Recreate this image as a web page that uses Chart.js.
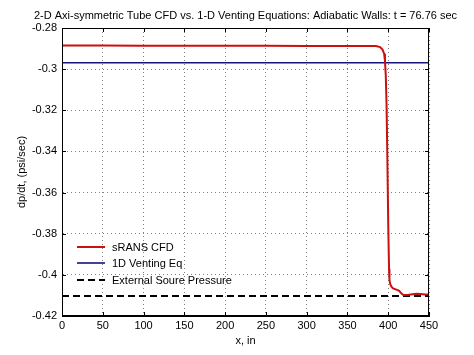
<!DOCTYPE html>
<html>
<head>
<meta charset="utf-8">
<script src="https://cdn.jsdelivr.net/npm/chart.js@4.4.1/dist/chart.umd.min.js"></script>
<style>
  html, body { margin: 0; padding: 0; background: #fff; }
  #wrap { width: 474px; height: 355px; position: relative; }
</style>
</head>
<body>
<div id="wrap"><canvas id="c" width="474" height="355"></canvas></div>
<script>
// ---- data ----
const titleText = "2-D Axi-symmetric Tube CFD vs. 1-D Venting Equations: Adiabatic Walls: t = 76.76 sec";
const xLabel = "x, in";
const yLabel = "dp/dt, (psi/sec)";
const seriesNames = ["sRANS CFD", "1D Venting Eq", "External Soure Pressure"];

const cfdX = [0, 50, 100, 150, 200, 250, 300, 350, 385, 390, 393, 395, 396, 397, 398, 399, 400, 401, 401.5, 402.5, 404, 406, 410, 413.5, 416, 418.5, 425, 435, 440, 445, 450];
const cfdY = [-0.2885, -0.2885, -0.2886, -0.2886, -0.2886, -0.2886, -0.2887, -0.2887, -0.2888, -0.2893, -0.2905, -0.2925, -0.296, -0.303, -0.318, -0.345, -0.375, -0.397, -0.4025, -0.4045, -0.4058, -0.4066, -0.4072, -0.4078, -0.409, -0.4098, -0.4097, -0.4092, -0.4093, -0.4095, -0.4095];

const ventX = [0, 450];
const ventY = [-0.2969, -0.2969];

const extX = [0, 450];
const extY = [-0.4103, -0.4103];

const xTicks = [0, 50, 100, 150, 200, 250, 300, 350, 400, 450];
const yTicks = [-0.42, -0.4, -0.38, -0.36, -0.34, -0.32, -0.3, -0.28];
const yTickLabels = ["-0.42", "-0.4", "-0.38", "-0.36", "-0.34", "-0.32", "-0.3", "-0.28"];

// ---- build chart ----
const toPts = (xs, ys) => xs.map((x, i) => ({ x: x, y: ys[i] }));
const FONT = "'Liberation Sans', Arial, sans-serif";

const decorPlugin = {
  id: 'decor',
  afterDraw(chart) {
    const ctx = chart.ctx;
    const a = chart.chartArea;
    const xs = chart.scales.x, ys = chart.scales.y;
    ctx.save();
    // box
    ctx.strokeStyle = '#000';
    ctx.lineWidth = 1;
    ctx.setLineDash([]);
    ctx.strokeRect(Math.round(a.left) + 0.5, Math.round(a.top) + 0.5, Math.round(a.right - a.left) - 1, Math.round(a.bottom - a.top) - 1);
    // inward tick marks
    ctx.beginPath();
    xTicks.forEach(v => {
      const px = Math.round(xs.getPixelForValue(v)) + 0.5;
      ctx.moveTo(px, a.bottom); ctx.lineTo(px, a.bottom - 4);
      ctx.moveTo(px, a.top); ctx.lineTo(px, a.top + 4);
    });
    yTicks.forEach(v => {
      const py = Math.round(ys.getPixelForValue(v)) + 0.5;
      ctx.moveTo(a.left, py); ctx.lineTo(a.left + 4, py);
      ctx.moveTo(a.right, py); ctx.lineTo(a.right - 4, py);
    });
    ctx.stroke();
    // title
    ctx.fillStyle = '#000';
    ctx.font = '11px ' + FONT;
    ctx.textAlign = 'center';
    ctx.textBaseline = 'middle';
    ctx.fillText(titleText, (a.left + a.right) / 2, 16);
    // x label
    ctx.fillText(xLabel, (a.left + a.right) / 2, 341);
    // y label
    ctx.save();
    ctx.translate(22, (a.top + a.bottom) / 2);
    ctx.rotate(-Math.PI / 2);
    ctx.fillText(yLabel, 0, 0);
    ctx.restore();
    // legend (inside axes, no box)
    const rows = [247, 263, 280];
    chart.data.datasets.forEach((ds, i) => {
      const y = rows[i];
      ctx.beginPath();
      ctx.strokeStyle = ds.borderColor;
      ctx.lineWidth = ds.borderWidth;
      ctx.setLineDash(ds.borderDash || []);
      ctx.moveTo(77, y); ctx.lineTo(105, y);
      ctx.stroke();
      ctx.setLineDash([]);
      ctx.fillStyle = '#000';
      ctx.textAlign = 'left';
      ctx.fillText(ds.label, 112, y + 1);
    });
    ctx.restore();
  }
};

new Chart(document.getElementById('c'), {
  type: 'scatter',
  data: {
    datasets: [
      { label: seriesNames[0], data: toPts(cfdX, cfdY), showLine: true, borderColor: '#cc0f0f', borderWidth: 2, pointRadius: 0, tension: 0 },
      { label: seriesNames[1], data: toPts(ventX, ventY), showLine: true, borderColor: '#14147a', borderWidth: 1.6, pointRadius: 0 },
      { label: seriesNames[2], data: toPts(extX, extY), showLine: true, borderColor: '#000', borderWidth: 2, borderDash: [7, 4], pointRadius: 0 }
    ]
  },
  options: {
    responsive: false,
    animation: false,
    devicePixelRatio: 1,
    layout: { padding: { left: 0, right: 45, top: 28, bottom: 0 } },
    plugins: { legend: { display: false }, title: { display: false }, tooltip: { enabled: false } },
    scales: {
      x: {
        type: 'linear', min: 0, max: 450,
        afterFit: s => { s.height = 39; },
        afterBuildTicks: s => { s.ticks = xTicks.map(v => ({ value: v })); },
        ticks: { font: { family: FONT, size: 11 }, color: '#000', padding: 3, maxRotation: 0, callback: v => String(v) },
        grid: { color: '#808080', drawTicks: false, lineWidth: 1 },
        border: { display: true, color: '#000', dash: [1, 3] }
      },
      y: {
        type: 'linear', min: -0.42, max: -0.28,
        afterFit: s => { s.width = 62; },
        afterBuildTicks: s => { s.ticks = yTicks.map(v => ({ value: v })); },
        ticks: { font: { family: FONT, size: 11 }, color: '#000', padding: 5, callback: (v) => { const i = yTicks.findIndex(t => Math.abs(t - v) < 1e-9); return i >= 0 ? yTickLabels[i] : ''; } },
        grid: { color: '#808080', drawTicks: false, lineWidth: 1 },
        border: { display: true, color: '#000', dash: [1, 3] }
      }
    }
  },
  plugins: [decorPlugin]
});
</script>
</body>
</html>
